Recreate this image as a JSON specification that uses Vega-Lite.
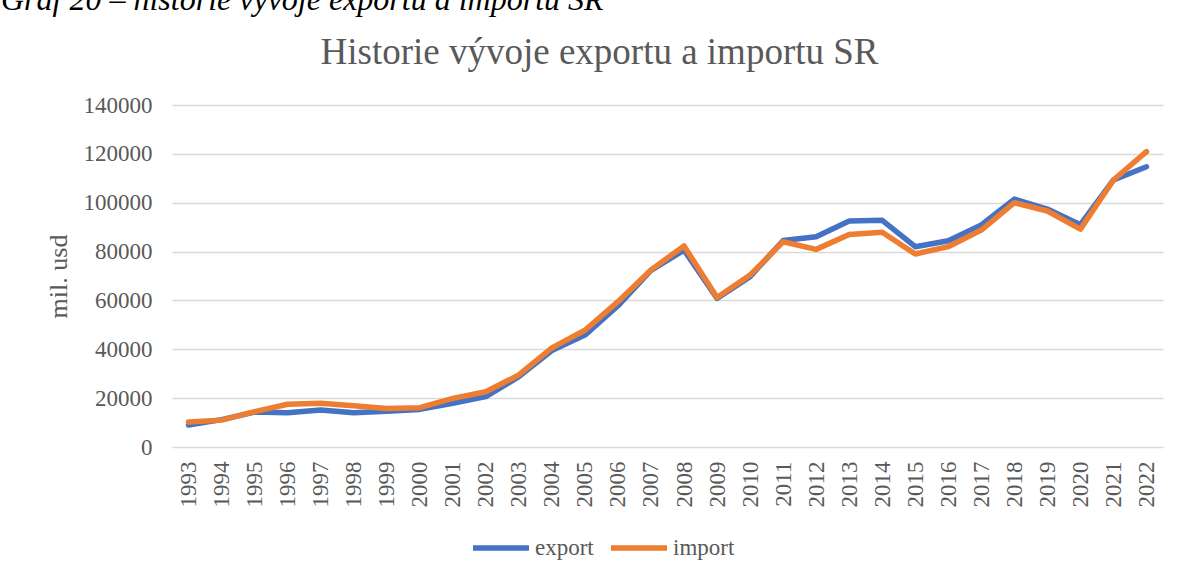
{
  "$schema": "https://vega.github.io/schema/vega-lite/v6.json",
  "width": 991,
  "height": 342,
  "autosize": {"type": "none"},
  "padding": {"left": 172, "top": 105, "right": 17, "bottom": 132},
  "background": "white",
  "title": {
    "text": "Graf 20 – historie vývoje exportu a importu SR",
    "anchor": "start",
    "frame": "group",
    "font": "Liberation Serif",
    "fontStyle": "italic",
    "fontWeight": "normal",
    "fontSize": 32,
    "color": "#000000",
    "dx": -171,
    "dy": -16,
    "offset": 0
  },
  "config": {
    "view": {"stroke": null},
    "font": "Liberation Serif"
  },
  "data": {
    "values": [
      {"year": "1993", "export": 9000, "import": 10200},
      {"year": "1994", "export": 11200, "import": 11000},
      {"year": "1995", "export": 14300, "import": 14500},
      {"year": "1996", "export": 14000, "import": 17500},
      {"year": "1997", "export": 15100, "import": 17900},
      {"year": "1998", "export": 14000, "import": 16900},
      {"year": "1999", "export": 14600, "import": 15800},
      {"year": "2000", "export": 15400, "import": 16100},
      {"year": "2001", "export": 17900, "import": 19900},
      {"year": "2002", "export": 20600, "import": 22600},
      {"year": "2003", "export": 28800, "import": 29500},
      {"year": "2004", "export": 39500, "import": 40600},
      {"year": "2005", "export": 45800, "import": 47800},
      {"year": "2006", "export": 57800, "import": 59500},
      {"year": "2007", "export": 72300, "import": 72500},
      {"year": "2008", "export": 80600, "import": 82300},
      {"year": "2009", "export": 60800, "import": 61200},
      {"year": "2010", "export": 69700, "import": 70400},
      {"year": "2011", "export": 84500, "import": 84000},
      {"year": "2012", "export": 86100, "import": 80900},
      {"year": "2013", "export": 92500, "import": 87000},
      {"year": "2014", "export": 92800, "import": 87900},
      {"year": "2015", "export": 82000, "import": 79000},
      {"year": "2016", "export": 84400, "import": 82000},
      {"year": "2017", "export": 90900, "import": 88800},
      {"year": "2018", "export": 101500, "import": 100000},
      {"year": "2019", "export": 97400, "import": 96600},
      {"year": "2020", "export": 91000, "import": 89200},
      {"year": "2021", "export": 109300, "import": 109300},
      {"year": "2022", "export": 114700, "import": 120900}
    ]
  },
  "resolve": {"axis": {"x": "independent"}},
  "layer": [
    {
      "mark": {"type": "line", "strokeWidth": 5.5, "strokeCap": "round", "strokeJoin": "round"},
      "encoding": {
        "x": {
          "field": "year", "type": "ordinal",
          "scale": {"type": "point", "padding": 0.5},
          "axis": {
            "orient": "bottom", "title": null, "labelAngle": -90, "labelFontSize": 23,
            "labelColor": "#595959", "labelFont": "Liberation Serif", "ticks": false,
            "domain": false, "labelPadding": 14, "grid": false, "labelAlign": "right", "labelBaseline": "middle"
          }
        },
        "y": {
          "field": "export", "type": "quantitative",
          "scale": {"domain": [0, 140000], "nice": false},
          "axis": {
            "title": "mil. usd", "titleFontSize": 26, "titleColor": "#595959", "titleFont": "Liberation Serif",
            "titleFontWeight": "normal", "titlePadding": 12,
            "values": [0, 20000, 40000, 60000, 80000, 100000, 120000, 140000],
            "format": "d", "labelFontSize": 23, "labelColor": "#595959", "labelFont": "Liberation Serif",
            "labelPadding": 20, "ticks": false, "domain": false,
            "grid": true, "gridColor": "#d9d9d9", "gridWidth": 1.5
          }
        },
        "color": {
          "datum": "export", "type": "nominal",
          "scale": {"domain": ["export", "import"], "range": ["#4472C4", "#ED7D31"]},
          "legend": {
            "title": null, "orient": "none", "direction": "horizontal",
            "legendX": 298, "legendY": 412,
            "symbolType": "stroke", "symbolSize": 3136, "symbolStrokeWidth": 5.5,
            "labelFontSize": 23, "labelColor": "#595959", "labelFont": "Liberation Serif",
            "labelOffset": 3, "columnPadding": 6
          }
        }
      }
    },
    {
      "mark": {"type": "line", "strokeWidth": 5.5, "strokeCap": "round", "strokeJoin": "round"},
      "encoding": {
        "x": {
          "field": "year", "type": "ordinal",
          "scale": {"type": "point", "padding": 0.5},
          "axis": {
            "orient": "top", "labels": false, "ticks": false, "domain": false, "grid": false,
            "title": "Historie vývoje exportu a importu SR",
            "titleFont": "Liberation Serif", "titleFontSize": 37, "titleFontWeight": "normal",
            "titleColor": "#595959", "titleX": 427, "titleY": -42,
            "titleAlign": "center", "titleBaseline": "alphabetic", "titleAngle": 0
          }
        },
        "y": {
          "field": "import", "type": "quantitative",
          "axis": {
            "title": "mil. usd", "titleFontSize": 26, "titleColor": "#595959", "titleFont": "Liberation Serif",
            "titleFontWeight": "normal", "titlePadding": 12,
            "values": [0, 20000, 40000, 60000, 80000, 100000, 120000, 140000],
            "format": "d", "labelFontSize": 23, "labelColor": "#595959", "labelFont": "Liberation Serif",
            "labelPadding": 20, "ticks": false, "domain": false,
            "grid": true, "gridColor": "#d9d9d9", "gridWidth": 1.5
          }
        },
        "color": {"datum": "import", "type": "nominal"}
      }
    }
  ]
}
